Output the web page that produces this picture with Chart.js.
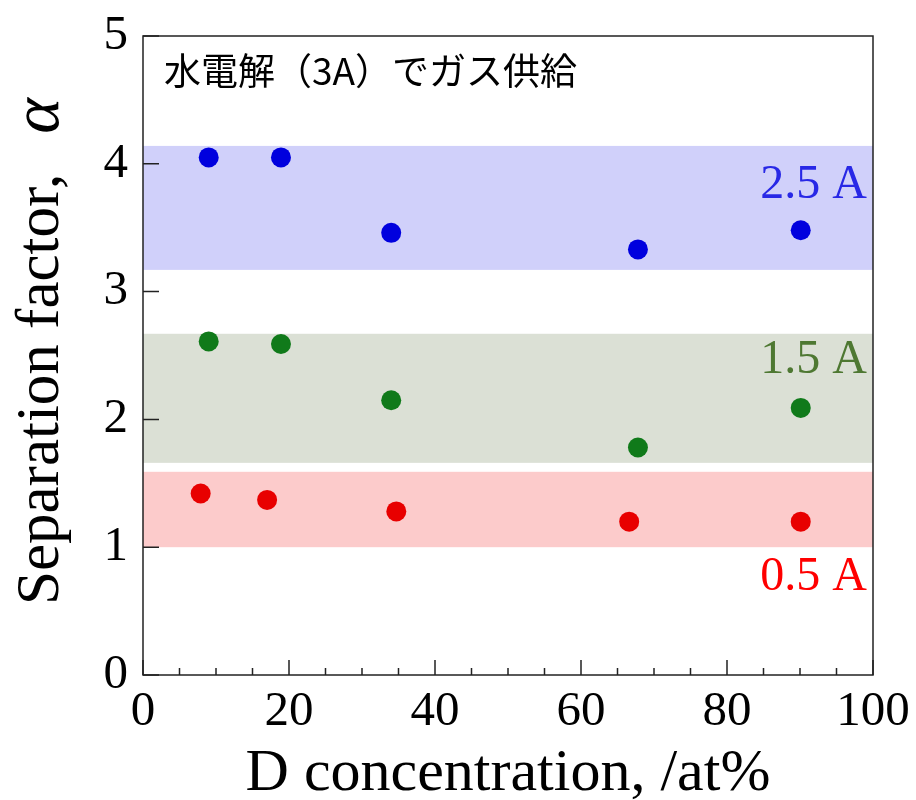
<!DOCTYPE html>
<html>
<head>
<meta charset="utf-8">
<script src="https://cdn.jsdelivr.net/npm/chart.js@4.4.1/dist/chart.umd.min.js"></script>
<style>
html,body{margin:0;padding:0;background:#fff;}
#wrap{width:916px;height:800px;}
</style>
</head>
<body>
<div id="wrap"><canvas id="c" width="916" height="800"></canvas></div>
<script>
// ---- data ----
const seriesNames = ["2.5 A", "1.5 A", "0.5 A"];
const x25 = [9.0, 18.9, 34.0, 67.8, 90.1];
const y25 = [4.05, 4.05, 3.46, 3.33, 3.48];
const x15 = [9.0, 18.9, 34.0, 67.8, 90.1];
const y15 = [2.61, 2.59, 2.15, 1.78, 2.09];
const x05 = [7.9, 17.0, 34.7, 66.6, 90.1];
const y05 = [1.42, 1.37, 1.28, 1.20, 1.20];
const bandLow = [3.17, 1.66, 1.00];
const bandHigh = [4.14, 2.67, 1.59];
const xMajorTicks = [0, 20, 40, 60, 80, 100];
const xMinorTicks = [5, 10, 15, 25, 30, 35, 45, 50, 55, 65, 70, 75, 85, 90, 95];
const yMajorTicks = [0, 1, 2, 3, 4, 5];
const noteText = "水電解（3A）でガス供給";
const xTitle = "D concentration, /at%";
const yTitleMain = "Separation factor,";
const yTitleSym = "α";

// ---- styles ----
const pointColors = ["rgb(0,0,222)", "rgb(16,122,26)", "rgb(232,0,0)"];
const bandColors = ["rgb(208,208,250)", "rgb(219,224,213)", "rgb(252,203,203)"];
const labelColors = ["rgb(40,40,230)", "rgb(78,120,50)", "rgb(255,0,0)"];
const labelYValues = [3.83, 2.46, 0.76];
const SERIF = "'Liberation Serif','Times New Roman',serif";

function pts(xs, ys){ return xs.map((x,i)=>({x:x, y:ys[i]})); }

const decorPlugin = {
  id: 'decor',
  beforeDatasetsDraw(chart){
    const {ctx, chartArea:a, scales:{x, y}} = chart;
    ctx.save();
    bandLow.forEach((lo,i)=>{
      const yt = y.getPixelForValue(bandHigh[i]);
      const yb = y.getPixelForValue(lo);
      ctx.fillStyle = bandColors[i];
      ctx.fillRect(a.left, yt, a.right - a.left, yb - yt);
    });
    // note text
    ctx.fillStyle = '#000';
    ctx.font = "37px 'Noto Sans CJK JP'";
    ctx.textBaseline = 'middle';
    ctx.textAlign = 'left';
    ctx.fillText(noteText, a.left + 21, 71);
    // band labels
    ctx.font = "48px " + SERIF;
    ctx.textAlign = 'right';
    seriesNames.forEach((n,i)=>{
      ctx.fillStyle = labelColors[i];
      ctx.fillText(n, a.right - 6, y.getPixelForValue(labelYValues[i]));
    });
    ctx.restore();
  },
  afterDraw(chart){
    const {ctx, chartArea:a, scales:{x, y}} = chart;
    ctx.save();
    ctx.strokeStyle = '#222';
    ctx.lineWidth = 1.5;
    ctx.strokeRect(a.left, a.top, a.right - a.left, a.bottom - a.top);
    ctx.beginPath();
    xMajorTicks.forEach(v=>{ const px = x.getPixelForValue(v); ctx.moveTo(px, a.bottom); ctx.lineTo(px, a.bottom - 15); });
    xMinorTicks.forEach(v=>{ const px = x.getPixelForValue(v); ctx.moveTo(px, a.bottom); ctx.lineTo(px, a.bottom - 7); });
    yMajorTicks.forEach(v=>{ const py = y.getPixelForValue(v); ctx.moveTo(a.left, py); ctx.lineTo(a.left + 16, py); });
    ctx.stroke();
    // x title
    ctx.fillStyle = '#000';
    ctx.font = "60px " + SERIF;
    ctx.textAlign = 'center';
    ctx.textBaseline = 'alphabetic';
    ctx.fillText(xTitle, (a.left + a.right)/2, 790);
    // y title
    ctx.translate(58, 0);
    ctx.rotate(-Math.PI/2);
    ctx.textAlign = 'left';
    ctx.font = "61px " + SERIF;
    const w1 = ctx.measureText(yTitleMain).width;
    const u0 = -605;
    ctx.fillText(yTitleMain, u0, 0);
    ctx.font = "italic 68px " + SERIF;
    ctx.fillText(yTitleSym, u0 + w1 + 40, 0);
    ctx.restore();
  }
};

new Chart(document.getElementById('c'), {
  type: 'scatter',
  data: {
    datasets: [
      {label: seriesNames[0], data: pts(x25, y25), backgroundColor: pointColors[0], borderColor: pointColors[0], pointRadius: 10, borderWidth: 0},
      {label: seriesNames[1], data: pts(x15, y15), backgroundColor: pointColors[1], borderColor: pointColors[1], pointRadius: 10, borderWidth: 0},
      {label: seriesNames[2], data: pts(x05, y05), backgroundColor: pointColors[2], borderColor: pointColors[2], pointRadius: 10, borderWidth: 0}
    ]
  },
  options: {
    responsive: false,
    animation: false,
    layout: {padding: {top: 36, right: 43, left: 0, bottom: 0}},
    plugins: {legend: {display: false}, tooltip: {enabled: false}},
    scales: {
      x: {
        type: 'linear', min: 0, max: 100,
        afterFit(s){ s.height = 125; s.paddingLeft = 0; s.paddingRight = 0; },
        afterBuildTicks(s){ s.ticks = xMajorTicks.map(v=>({value:v})); },
        grid: {display: false, drawTicks: false},
        border: {display: false},
        ticks: {padding: 8, color: '#000', font: {family: SERIF, size: 49}, maxRotation: 0, autoSkip: false}
      },
      y: {
        type: 'linear', min: 0, max: 5,
        afterFit(s){ s.width = 143; s.paddingTop = 0; s.paddingBottom = 0; },
        afterBuildTicks(s){ s.ticks = yMajorTicks.map(v=>({value:v})); },
        grid: {display: false, drawTicks: false},
        border: {display: false},
        ticks: {padding: 15, color: '#000', font: {family: SERIF, size: 49}, autoSkip: false}
      }
    }
  },
  plugins: [decorPlugin]
});
</script>
</body>
</html>
